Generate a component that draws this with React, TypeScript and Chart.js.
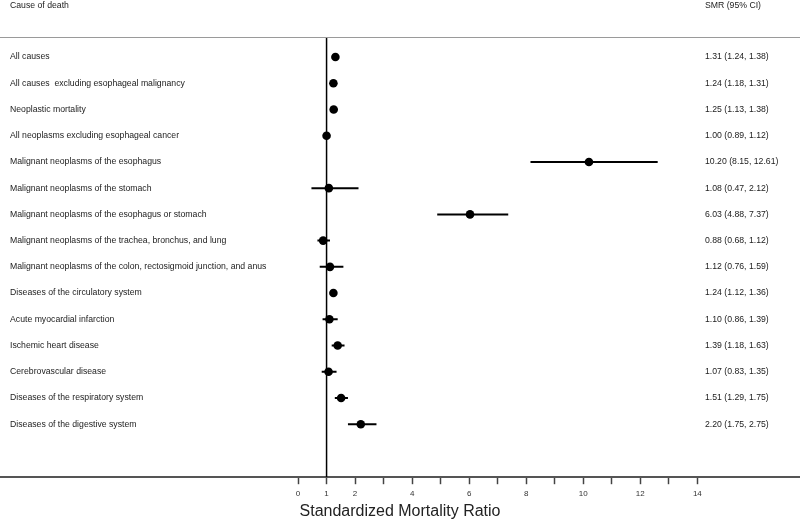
import React, { useEffect, useRef } from "react";
import { Chart, registerables } from "chart.js";

Chart.register(...registerables);

const causes = [
  "All causes",
  "All causes  excluding esophageal malignancy",
  "Neoplastic mortality",
  "All neoplasms excluding esophageal cancer",
  "Malignant neoplasms of the esophagus",
  "Malignant neoplasms of the stomach",
  "Malignant neoplasms of the esophagus or stomach",
  "Malignant neoplasms of the trachea, bronchus, and lung",
  "Malignant neoplasms of the colon, rectosigmoid junction, and anus",
  "Diseases of the circulatory system",
  "Acute myocardial infarction",
  "Ischemic heart disease",
  "Cerebrovascular disease",
  "Diseases of the respiratory system",
  "Diseases of the digestive system",
];
const smr = [1.31, 1.24, 1.25, 1.0, 10.2, 1.08, 6.03, 0.88, 1.12, 1.24, 1.1, 1.39, 1.07, 1.51, 2.2];
const ciLow = [1.24, 1.18, 1.13, 0.89, 8.15, 0.47, 4.88, 0.68, 0.76, 1.12, 0.86, 1.18, 0.83, 1.29, 1.75];
const ciHigh = [1.38, 1.31, 1.38, 1.12, 12.61, 2.12, 7.37, 1.12, 1.59, 1.36, 1.39, 1.63, 1.35, 1.75, 2.75];
const xTicks = [0, 1, 2, 3, 4, 5, 6, 7, 8, 9, 10, 11, 12, 13, 14];
const xTickLabels = [0, 1, 2, 4, 6, 8, 10, 12, 14];
const referenceValue = 1;
const headerLeft = "Cause of death";
const headerRight = "SMR (95% CI)";
const axisTitle = "Standardized Mortality Ratio";

const X_MIN = -10.45;
const X_MAX = 17.6;
const Y_MIN = -0.763;
const Y_MAX = 16.02;
const FONT = "'Liberation Sans', Arial, sans-serif";

export default function App() {
  const ref = useRef<HTMLCanvasElement | null>(null);

  useEffect(() => {
    const canvas = ref.current;
    if (!canvas) return;

    const textPlugin = {
      id: "forestText",
      afterDraw(chart: any) {
        const ctx = chart.ctx;
        const y = chart.scales.y;
        const area = chart.chartArea;
        ctx.save();
        ctx.strokeStyle = "#9a9a9a";
        ctx.lineWidth = 1;
        ctx.beginPath();
        ctx.moveTo(0, area.top + 0.5);
        ctx.lineTo(chart.width, area.top + 0.5);
        ctx.stroke();

        ctx.fillStyle = "#222";
        ctx.font = `8.7px ${FONT}`;
        ctx.textBaseline = "middle";
        ctx.textAlign = "left";
        ctx.fillText(headerLeft, 10, 5.5);
        ctx.fillText(headerRight, 705, 5.5);
        causes.forEach((c, i) => {
          const py = y.getPixelForValue(i);
          ctx.fillText(c, 10, py);
          ctx.fillText(
            `${smr[i].toFixed(2)} (${ciLow[i].toFixed(2)}, ${ciHigh[i].toFixed(2)})`,
            705,
            py
          );
        });
        ctx.restore();
      },
    };

    const ciDatasets = causes.map((_, i) => ({
      type: "line" as const,
      data: [
        { x: ciLow[i], y: i },
        { x: ciHigh[i], y: i },
      ],
      borderColor: "#000",
      borderWidth: 2,
      pointRadius: 0,
      showLine: true,
      order: 2,
    }));

    const chart = new Chart(canvas, {
      type: "scatter",
      data: {
        datasets: [
          {
            type: "line",
            data: [
              { x: referenceValue, y: Y_MIN },
              { x: referenceValue, y: Y_MAX },
            ],
            borderColor: "#000",
            borderWidth: 1.5,
            pointRadius: 0,
            showLine: true,
            order: 3,
          } as any,
          ...ciDatasets,
          {
            type: "scatter",
            data: smr.map((v, i) => ({ x: v, y: i })),
            backgroundColor: "#000",
            borderColor: "#000",
            pointRadius: 4.3,
            borderWidth: 0,
            order: 1,
          },
        ],
      },
      options: {
        animation: false,
        responsive: false,
        layout: { autoPadding: false, padding: { top: 37, left: 0, right: 0, bottom: 0 } },
        plugins: { legend: { display: false }, tooltip: { enabled: false } },
        scales: {
          x: {
            type: "linear",
            min: X_MIN,
            max: X_MAX,
            afterBuildTicks: (scale: any) => {
              scale.ticks = xTicks.map((v) => ({ value: v }));
            },
            ticks: {
              autoSkip: false,
              maxRotation: 0,
              padding: 5,
              color: "#333",
              font: { family: FONT, size: 8 },
              callback: (v: any) => (xTickLabels.includes(Number(v)) ? String(v) : ""),
            },
            grid: {
              drawOnChartArea: false,
              drawTicks: true,
              tickLength: 7,
              tickWidth: 1.5,
              tickColor: "#444",
            },
            border: { display: true, color: "#555", width: 2 },
            title: {
              display: true,
              text: axisTitle,
              color: "#222",
              font: { family: FONT, size: 16 },
              padding: { top: -2, bottom: -1 },
            },
          },
          y: {
            type: "linear",
            display: false,
            reverse: true,
            min: Y_MIN,
            max: Y_MAX,
          },
        },
      },
      plugins: [textPlugin],
    } as any);

    return () => chart.destroy();
  }, []);

  return (
    <div style={{ position: "fixed", left: 0, top: 0, width: 800, height: 520, background: "#fff" }}>
      <canvas ref={ref} width={800} height={520} />
    </div>
  );
}
